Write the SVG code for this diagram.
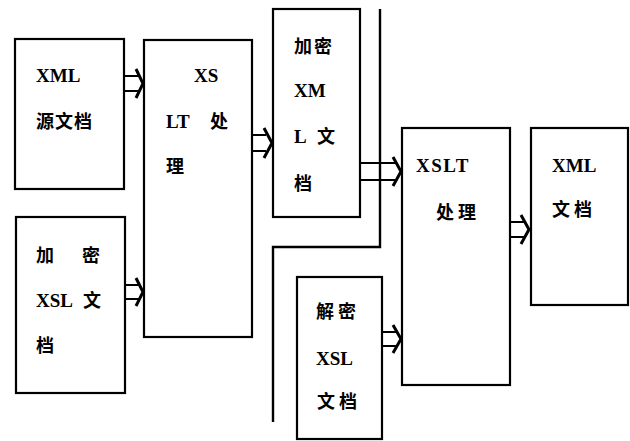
<svg xmlns="http://www.w3.org/2000/svg" width="630" height="441" viewBox="0 0 630 441">
<style>
.box{fill:#fff;stroke:#000;stroke-width:2.2}
.t{font-family:"Liberation Serif","Noto Sans CJK SC",serif;font-weight:bold;font-size:19px;fill:#000}
.c{font-family:"Noto Sans CJK SC",sans-serif;font-weight:bold;font-size:18px;fill:#000}
.ar{fill:none;stroke:#000;stroke-width:2}
.hd{fill:none;stroke:#000;stroke-width:3}
.sep{fill:none;stroke:#000;stroke-width:2.4}
</style>
<rect width="630" height="441" fill="#fff"/>
<g id="connectors">
<path class="sep" d="M380,9 V247 H273 V422"/>
<path class="ar" d="M124,76 H139 M124,91 H139"/><path class="hd" d="M136,69 L143,83.5 L136,98"/>
<path class="ar" d="M125,285 H139 M125,299 H139"/><path class="hd" d="M136,278 L143,292 L136,306"/>
<path class="ar" d="M252,135 H266 M252,151 H266"/><path class="hd" d="M264,128 L272,143 L264,158"/>
<path class="ar" d="M360,163 H396 M360,180 H396"/><path class="hd" d="M393,157 L401,171.5 L393,186"/>
<path class="ar" d="M382,332 H396 M382,346 H396"/><path class="hd" d="M393,325 L401,339 L393,353"/>
<path class="ar" d="M510,222 H524 M510,237 H524"/><path class="hd" d="M521,215 L529,229.5 L521,244"/>
</g>
<g id="n1">
<rect class="box" x="15" y="39" width="109" height="150"/>
<text class="t" x="36" y="82">XML</text>
<text class="c" x="36" y="128" letter-spacing="1">源文档</text>
</g>
<g id="n2">
<rect class="box" x="144" y="40" width="108" height="297"/>
<text class="t" x="194" y="82">XS</text>
<text class="t" x="166" y="128">LT</text>
<text class="c" x="210" y="128">处</text>
<text class="c" x="166" y="173">理</text>
</g>
<g id="n3">
<rect class="box" x="16" y="217" width="109" height="176"/>
<text class="c" x="36" y="262">加</text>
<text class="c" x="82" y="262">密</text>
<text class="t" x="36" y="307">XSL</text>
<text class="c" x="83" y="307">文</text>
<text class="c" x="36" y="352">档</text>
</g>
<g id="n4">
<rect class="box" x="273" y="9" width="87" height="208"/>
<text class="c" x="294" y="53" letter-spacing="2">加密</text>
<text class="t" x="294" y="97">XM</text>
<text class="t" x="294" y="143">L</text>
<text class="c" x="317" y="143">文</text>
<text class="c" x="294" y="190">档</text>
</g>
<g id="n5">
<rect class="box" x="297" y="277" width="85" height="162"/>
<text class="c" x="316" y="318" letter-spacing="4">解密</text>
<text class="t" x="316" y="365">XSL</text>
<text class="c" x="317" y="408" letter-spacing="4">文档</text>
</g>
<g id="n6">
<rect class="box" x="402" y="128" width="108" height="257"/>
<text class="t" x="416" y="172" font-size="20" letter-spacing="1.5">XSLT</text>
<text class="c" x="436" y="219" letter-spacing="4">处理</text>
</g>
<g id="n7">
<rect class="box" x="531" y="128" width="97" height="177"/>
<text class="t" x="552" y="172">XML</text>
<text class="c" x="552" y="216" letter-spacing="4">文档</text>
</g>
</svg>
